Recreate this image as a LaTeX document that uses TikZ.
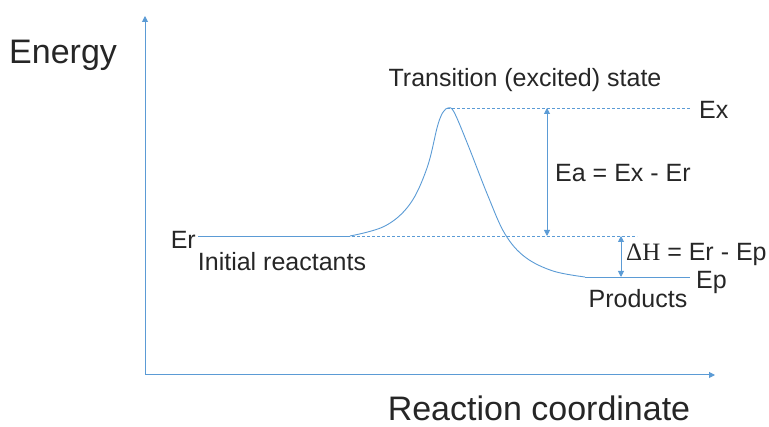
\documentclass[tikz,border=0pt]{standalone}
\usepackage{fontspec}
\setmainfont{Liberation Sans}
\newfontfamily\seriffont{Liberation Serif}
\usetikzlibrary{arrows.meta}
\definecolor{lblue}{HTML}{5B9BD5}
\definecolor{txt}{HTML}{262626}
\begin{document}
\begin{tikzpicture}[x=1pt,y=-1pt,
  axis/.style={draw=lblue,line width=1pt,-{Triangle[length=6pt,width=6pt]}},
  level/.style={draw=lblue,line width=0.9pt},
  guide/.style={draw=lblue,line width=0.6pt,dash pattern=on 3pt off 2pt},
  dim/.style={draw=lblue,line width=0.9pt,{Triangle[length=6pt,width=6pt]}-{Triangle[length=6pt,width=6pt]}},
  lbl/.style={text=txt,inner sep=0pt,font=\fontsize{25}{30}\selectfont},
  big/.style={text=txt,inner sep=0pt,font=\fontsize{34}{40}\selectfont}]
\useasboundingbox (0,0) rectangle (769,427);
% axes
\coordinate (O) at (145,375);
\coordinate (ytop) at (145,16);
\coordinate (xend) at (715,375);
\draw[axis] (O) -- (ytop);
\draw[axis] (O) -- (xend);
% levels
\coordinate (er0) at (198,236);
\coordinate (er1) at (350,236);
\coordinate (peak) at (447,108);
\coordinate (ep0) at (585,277);
\coordinate (ep1) at (690,277);
\draw[level] (er0) -- (er1);
\draw[level] plot[smooth,tension=0.6] coordinates {(350,236) (385,226) (410,204) (427,168) (437,128) (441,116) (444,111) (448,108) (454,112) (468,145) (488,196) (505,234) (525,257) (553,271) (585,277)};
\draw[level] (ep0) -- (ep1);
% guides
\coordinate (ex1) at (690,108);
\coordinate (g0) at (352,236);
\coordinate (g1) at (637,236);
\draw[guide] (peak) -- (ex1);
\draw[guide] (g0) -- (g1);
% dimension arrows
\coordinate (a0) at (547,108);
\coordinate (a1) at (547,236);
\coordinate (b0) at (621,236);
\coordinate (b1) at (621,277);
\draw[dim] (a0) -- (a1);
\draw[dim] (b0) -- (b1);
% labels
\node[big,anchor=west] (energy) at (9,55) {Energy};
\node[big,anchor=base,text depth=0pt] (rc) at (539,421) {Reaction coordinate};
\node[lbl] (ts) at (525,80) {Transition (excited) state};
\node[lbl,anchor=west] (ex) at (699,110) {Ex};
\node[lbl,anchor=west] (ea) at (555,173) {Ea = Ex - Er};
\node[lbl,anchor=west] (dh) at (626,254) {{\seriffont ΔH} = Er - Ep};
\node[lbl,anchor=west] (ep) at (696,282) {Ep};
\node[lbl] (prod) at (638,299) {Products};
\node[lbl,anchor=east] (er) at (196,240) {Er};
\node[lbl] (ir) at (282,262) {Initial reactants};
\end{tikzpicture}
\end{document}
